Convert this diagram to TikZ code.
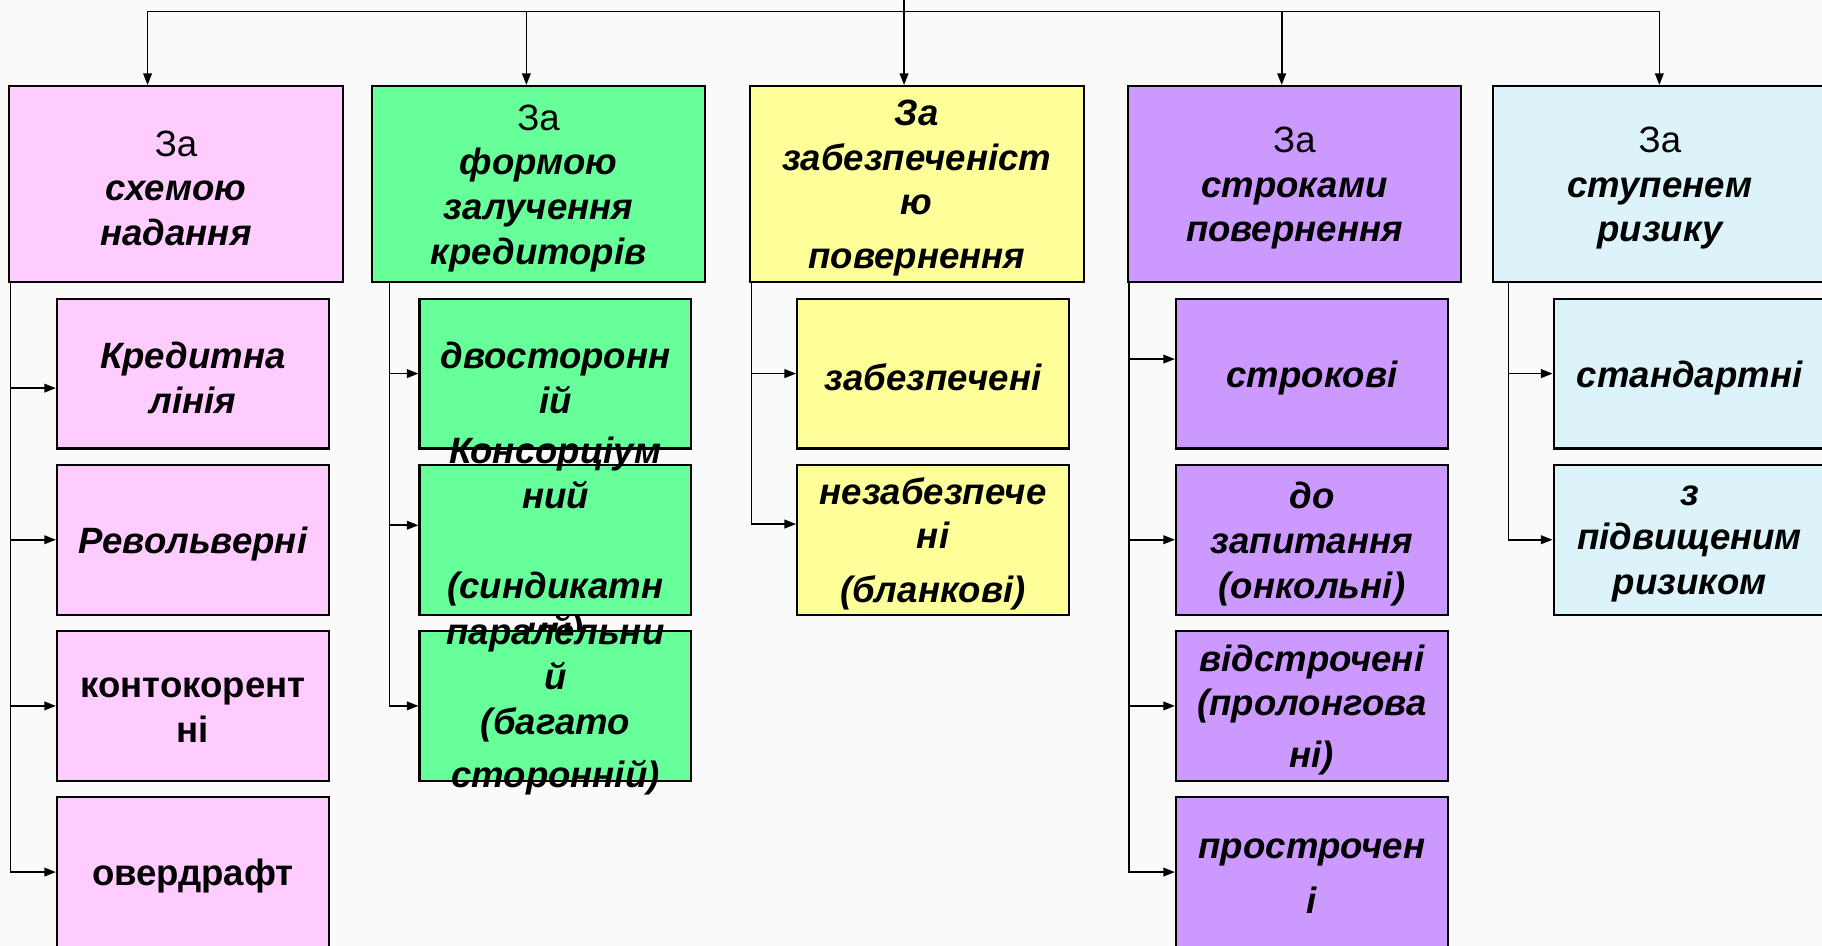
\documentclass[tikz,border=0pt]{standalone}
\usepackage{fontspec}
\setmainfont{Liberation Sans}
\usetikzlibrary{arrows.meta}
\tikzset{>={Triangle[length=10pt,width=7.5pt]}}

\definecolor{pinkc}{HTML}{FFCCFF}
\definecolor{greenc}{HTML}{66FF99}
\definecolor{yellowc}{HTML}{FFFF99}
\definecolor{violetc}{HTML}{CC99FF}
\definecolor{cyanc}{HTML}{DCF4F9}
\definecolor{bgc}{HTML}{FAFAFA}
\newcommand{\plainza}{{\mdseries\upshape За}}

\tikzset{
  headbox/.style={draw, line width=1.8pt, minimum width=287pt, minimum height=169pt, inner sep=0pt},
  kindbox/.style={draw, line width=1.8pt, minimum width=234pt, minimum height=129pt, inner sep=0pt},
  txt/.style={align=center, inner sep=0pt, yshift=-3.5pt, font=\fontsize{31.5}{38.5}\selectfont\bfseries\itshape},
  uptxt/.style={txt, font=\fontsize{31.5}{38.5}\selectfont\bfseries\upshape},
  wire/.style={line width=1.4pt},
  link/.style={->, line width=1.4pt},
}

\begin{document}
\begin{tikzpicture}[x=1pt, y=1pt]
    \fill[bgc] (0,0) rectangle (1568,-814);
    \useasboundingbox (0,0) rectangle (1568,-814);
    \clip (0,0) rectangle (1568,-814);

    % headers
    \node[headbox, fill=pinkc] (h1) at (151.5,-158.5) {};
    \node[txt] at (h1) {\plainza\\схемою\\надання};
    \node[headbox, fill=greenc] (h2) at (463.5,-158.5) {};
    \node[txt] at (h2) {\plainza\\формою\\залучення\\кредиторів};
    \node[headbox, fill=yellowc] (h3) at (789,-158.5) {};
    \node[txt] at (h3) {За\\забезпеченіст\\ю\\[8pt]повернення};
    \node[headbox, fill=violetc] (h4) at (1114,-158.5) {};
    \node[txt] at (h4) {\plainza\\строками\\повернення};
    \node[headbox, fill=cyanc] (h5) at (1428.5,-158.5) {};
    \node[txt] at (h5) {\plainza\\ступенем\\ризику};

    % top bar
    \coordinate (top) at (778,0);
    \coordinate (bar) at (778,-10);
    \draw[wire] (top) -- (bar);
    \foreach \h/\dx in {h1/-24.5, h2/-10.5, h3/-11, h4/-11, h5/-0.5}
    \draw[link] (bar) -| ([xshift=\dx pt]\h.north);

    % first column
    \node[kindbox, fill=pinkc] (p1) at (166,-321.5) {};
    \node[txt] at (p1) {Кредитна\\лінія};
    \node[kindbox, fill=pinkc] (p2) at (166,-464.5) {};
    \node[txt] at (p2) {Револьверні};
    \node[kindbox, fill=pinkc] (p3) at (166,-607.5) {};
    \node[uptxt] at (p3) {контокорент\\ні};
    \node[kindbox, fill=pinkc] (p4) at (166,-750.5) {};
    \node[uptxt] at (p4) {овердрафт};

    % second column
    \node[kindbox, fill=greenc] (g1) at (478,-321.5) {};
    \node[txt] at (g1) {двосторонн\\ій};
    \node[kindbox, fill=greenc] (g2) at (478,-464.5) {};
    \node[txt] at (g2) {Консорціум\\ний\\[38.5pt](синдикатн\\ий)};
    \node[kindbox, fill=greenc] (g3) at (478,-607.5) {};
    \node[txt] at (g3) {паралельни\\й\\(багато\\[7pt]сторонній)};

    % third column
    \node[kindbox, fill=yellowc] (y1) at (803,-321.5) {};
    \node[txt] at (y1) {забезпечені};
    \node[kindbox, fill=yellowc] (y2) at (803,-464.5) {};
    \node[txt] at (y2) {незабезпече\\ні\\[8pt](бланкові)};

    % fourth column
    \node[kindbox, fill=violetc] (v1) at (1129,-321.5) {};
    \node[txt] at (v1) {строкові};
    \node[kindbox, fill=violetc] (v2) at (1129,-464.5) {};
    \node[txt] at (v2) {до\\запитання\\(онкольні)};
    \node[kindbox, fill=violetc] (v3) at (1129,-607.5) {};
    \node[txt] at (v3) {відстрочені\\(пролонгова\\[6pt]ні)};
    \node[kindbox, fill=violetc] (v4) at (1129,-750.5) {};
    \node[txt] at (v4) {прострочен\\[8pt]і};

    % fifth column
    \node[kindbox, fill=cyanc] (c1) at (1454,-321.5) {};
    \node[txt] at (c1) {стандартні};
    \node[kindbox, fill=cyanc] (c2) at (1454,-464.5) {};
    \node[txt] at (c2) {з\\підвищеним\\ризиком};

    % trunks
    \coordinate (t1) at ([xshift=2pt]h1.south west);
    \coordinate (t2) at ([xshift=16pt]h2.south west);
    \coordinate (t3) at ([xshift=2pt]h3.south west);
    \coordinate (t4) at ([xshift=2pt]h4.south west);
    \coordinate (t5) at ([xshift=14pt]h5.south west);
    \foreach \n/\dy in {p1/-12.5, p2/0, p3/0, p4/0}
    \draw[link] (t1) |- ([yshift=\dy pt]\n.west);
    \foreach \n/\dy in {g1/0, g2/12.5, g3/0}
    \draw[link] (t2) |- ([yshift=\dy pt]\n.west);
    \foreach \n/\dy in {y1/0, y2/13.5}
    \draw[link] (t3) |- ([yshift=\dy pt]\n.west);
    \foreach \n/\dy in {v1/12.5, v2/0, v3/0, v4/0}
    \draw[link] (t4) |- ([yshift=\dy pt]\n.west);
    \foreach \n/\dy in {c1/0, c2/0}
    \draw[link] (t5) |- ([yshift=\dy pt]\n.west);
\end{tikzpicture}
\end{document}
